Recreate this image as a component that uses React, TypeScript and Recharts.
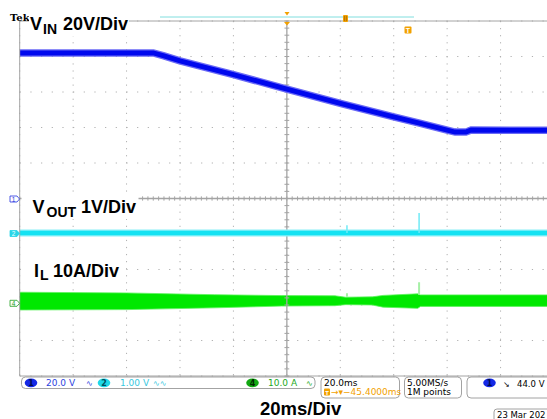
import {
  ComposedChart,
  Line,
  Area,
  XAxis,
  YAxis,
  CartesianGrid,
  ReferenceLine,
} from "recharts";

// horizontal: 20 ms/div, 10 divisions
const TIME_TICKS = [0, 20, 40, 60, 80, 100, 120, 140, 160, 180, 200];
// vertical: 10 divisions, centre = 0
const DIV_TICKS = [-5, -4, -3, -2, -1, 0, 1, 2, 3, 4, 5];
const MINOR_T = Array.from({ length: 101 }, (_, i) => i * 2);
const MINOR_D = Array.from({ length: 51 }, (_, i) => -5 + i * 0.2);

// CH1 VIN, 20 V/div, ground at centre
const VIN_SCALE = 20;
const VIN_POS = 0;
const vinTime = [0, 50, 54, 60, 80, 100, 120, 140, 150, 160, 163, 167, 169, 200];
const vinVolts = [82, 82, 80.3, 77.5, 69.8, 61.6, 53.6, 46.0, 42.3, 38.5, 37.4, 37.4, 38.6, 38.4];

// CH2 VOUT, 1 V/div (offset shown at marker)
const VOUT_SCALE = 1;
const VOUT_POS = -0.99;
const voutTime = [0, 200];
const voutVolts = [0.02, 0.02];

// CH4 IL, 10 A/div, ripple envelope
const IL_SCALE = 10;
const IL_POS = -2.97;
const ilTime = [0, 40, 73, 98, 118, 122, 132, 136, 149, 150, 200];
const ilLow = [-1.7, -1.6, -1.1, -0.6, -0.5, -0.2, -0.3, -0.9, -1.25, -0.7, -0.7];
const ilHigh = [3.3, 3.1, 2.6, 2.35, 2.3, 1.9, 2.0, 2.4, 2.85, 2.55, 2.55];

// glitches
const spikeTime = [122.5, 149.5];
const voutSpikePeak = [0.24, 0.58];
const ilSpikeBase = [2.0, 2.6];
const ilSpikePeak = [3.0, 6.1];

const vinData = vinTime.map((t, i) => ({ t, v: vinVolts[i] / VIN_SCALE + VIN_POS }));
const voutData = voutTime.map((t, i) => ({ t, v: voutVolts[i] / VOUT_SCALE + VOUT_POS }));
const ilData = ilTime.map((t, i) => ({
  t,
  lo: ilLow[i] / IL_SCALE + IL_POS,
  hi: ilHigh[i] / IL_SCALE + IL_POS,
}));
const voutSpikes = spikeTime.flatMap((t, i) => [
  { t, v: voutVolts[0] / VOUT_SCALE + VOUT_POS },
  { t, v: voutSpikePeak[i] / VOUT_SCALE + VOUT_POS },
  { t, v: null },
]);
const ilSpikes = spikeTime.flatMap((t, i) => [
  { t, v: ilSpikeBase[i] / IL_SCALE + IL_POS },
  { t, v: ilSpikePeak[i] / IL_SCALE + IL_POS },
  { t, v: null },
]);

const GRID = "#b0b0b0";
const AXIS = "#a4a4a4";
const ORANGE = "#f2a100";
const SANS = "'Liberation Sans', Arial, sans-serif";
const STATUS = "'DejaVu Sans', sans-serif";

function Tag({ y, label, color, filled }: { y: number; label: string; color: string; filled?: boolean }) {
  return (
    <g>
      <polygon
        points={`10,${y - 3} 17,${y - 3} 19.5,${y} 17,${y + 3} 10,${y + 3}`}
        fill={filled ? color : "#fff"}
        stroke={color}
        strokeWidth={0.8}
      />
      <text x={13.5} y={y + 2.5} fontSize={6.5} fontFamily={SANS} fill={filled ? "#eaffff" : color} textAnchor="middle">
        {label}
      </text>
    </g>
  );
}

function Badge({ cx, label, fill, ink }: { cx: number; label: string; fill: string; ink: string }) {
  return (
    <g>
      <ellipse cx={cx} cy={382.8} rx={6.3} ry={4.4} fill={fill} />
      <text x={cx} y={385.8} fontSize={8} fontWeight={700} fontFamily={STATUS} fill={ink} textAnchor="middle">
        {label}
      </text>
    </g>
  );
}

export default function App() {
  return (
    <div
      style={{
        position: "absolute",
        left: 0,
        top: 0,
        width: 547,
        height: 419,
        overflow: "hidden",
        background: "#fff",
      }}
    >
      <ComposedChart width={560} height={419} margin={{ top: 21, right: 6, bottom: 43, left: 19.7 }}>
        <XAxis type="number" dataKey="t" domain={[0, 200]} ticks={TIME_TICKS} allowDataOverflow hide />
        <YAxis type="number" domain={[-5, 5]} ticks={DIV_TICKS} allowDataOverflow hide />
        <XAxis
          xAxisId="top"
          orientation="top"
          type="number"
          domain={[0, 200]}
          ticks={MINOR_T}
          height={1}
          mirror
          tick={false}
          tickSize={3}
          axisLine={{ stroke: AXIS }}
          tickLine={{ stroke: AXIS }}
        />
        <XAxis
          xAxisId="bottom"
          orientation="bottom"
          type="number"
          domain={[0, 200]}
          ticks={MINOR_T}
          height={1}
          mirror
          tick={false}
          tickSize={3}
          axisLine={{ stroke: AXIS }}
          tickLine={{ stroke: AXIS }}
        />
        <YAxis
          yAxisId="left"
          orientation="left"
          type="number"
          domain={[-5, 5]}
          ticks={MINOR_D}
          width={1}
          mirror
          tick={false}
          tickSize={3}
          axisLine={{ stroke: AXIS }}
          tickLine={{ stroke: AXIS }}
        />
        <CartesianGrid horizontal vertical={false} stroke={GRID} strokeDasharray="1.2 9.47" />
        <CartesianGrid horizontal={false} vertical stroke={GRID} strokeDasharray="1.2 5.86" />
        <ReferenceLine x={100} stroke={AXIS} strokeWidth={1.3} />
        <ReferenceLine y={0} stroke={AXIS} strokeWidth={1.3} />
        {MINOR_T.map((t) => (
          <ReferenceLine
            key={`mt${t}`}
            segment={[
              { x: t, y: -0.06 },
              { x: t, y: 0.06 },
            ]}
            stroke={AXIS}
          />
        ))}
        {MINOR_D.map((d) => (
          <ReferenceLine
            key={`md${d}`}
            segment={[
              { x: 99.1, y: d },
              { x: 100.9, y: d },
            ]}
            stroke={AXIS}
          />
        ))}

        <Area
          data={ilData}
          dataKey={(d: { lo: number; hi: number }) => [d.lo, d.hi]}
          type="linear"
          stroke="#5cf25c"
          strokeWidth={0.8}
          fill="#00e800"
          fillOpacity={1}
          isAnimationActive={false}
        />
        <Line
          data={ilSpikes}
          dataKey="v"
          type="linear"
          stroke="#a6f0a6"
          strokeWidth={2}
          dot={false}
          isAnimationActive={false}
        />
        <Line
          data={voutData}
          dataKey="v"
          type="linear"
          stroke="#8af0f8"
          strokeWidth={7}
          dot={false}
          isAnimationActive={false}
        />
        <Line
          data={voutData}
          dataKey="v"
          type="linear"
          stroke="#14e2f2"
          strokeWidth={4.5}
          dot={false}
          isAnimationActive={false}
        />
        <Line
          data={voutSpikes}
          dataKey="v"
          type="linear"
          stroke="#70eaf6"
          strokeWidth={1.5}
          dot={false}
          isAnimationActive={false}
        />
        <Line
          data={vinData}
          dataKey="v"
          type="linear"
          stroke="#6a6af6"
          strokeWidth={7.5}
          dot={false}
          isAnimationActive={false}
        />
        <Line
          data={vinData}
          dataKey="v"
          type="linear"
          stroke="#0008ee"
          strokeWidth={5}
          dot={false}
          isAnimationActive={false}
        />
      </ComposedChart>

      <svg
        width={547}
        height={419}
        style={{ position: "absolute", left: 0, top: 0, pointerEvents: "none" }}
      >
        {/* header */}
        <text x={10} y={20.5} fontSize={10} fontWeight={700} fontFamily="'DejaVu Serif', serif">
          Tek
        </text>
        <line x1={160} x2={414} y1={17} y2={17} stroke="#80dede" strokeWidth={1} />
        <polygon points="284.5,12 289.5,12 287,15.5" fill={ORANGE} />
        <polygon points="284,22 290,22 287,25.5" fill={ORANGE} />
        <rect x={343} y={15} width={5} height={7} rx={1} fill={ORANGE} />
        <line x1={344.6} x2={344.6} y1={16} y2={21} stroke="#a06000" strokeWidth={0.7} />
        <line x1={346.4} x2={346.4} y1={16} y2={21} stroke="#a06000" strokeWidth={0.7} />
        <rect x={404.5} y={26.5} width={7} height={7} rx={1} fill={ORANGE} />
        <text x={408} y={32.5} fontSize={7} fontWeight={700} fontFamily={SANS} fill="#fff" textAnchor="middle">
          T
        </text>

        {/* channel labels */}
        <rect x={29} y={14} width={100} height={22} fill="#fff" />
        <text fontFamily={SANS} fontWeight={700} fill="#000">
          <tspan x={30} y={30} fontSize={18}>V</tspan>
          <tspan x={43} y={33.5} fontSize={14}>IN</tspan>
          <tspan x={63} y={30} fontSize={18}>20V/Div</tspan>
        </text>
        <rect x={21.5} y={194} width={117} height={25} fill="#fff" />
        <text fontFamily={SANS} fontWeight={700} fill="#000">
          <tspan x={32.5} y={213.3} fontSize={18}>V</tspan>
          <tspan x={46.5} y={216.5} fontSize={14}>OUT</tspan>
          <tspan x={81} y={213.3} fontSize={18}>1V/Div</tspan>
        </text>
        <rect x={30} y={258} width={92} height={23} fill="#fff" />
        <text fontFamily={SANS} fontWeight={700} fill="#000">
          <tspan x={34} y={276.7} fontSize={18}>I</tspan>
          <tspan x={40} y={280} fontSize={14}>L</tspan>
          <tspan x={53} y={276.7} fontSize={18}>10A/Div</tspan>
        </text>

        {/* ground markers */}
        <Tag y={199} label="1" color="#2434e0" />
        <Tag y={233.5} label="2" color="#2ad6e8" filled />
        <Tag y={303.3} label="4" color="#1ea01e" />

        {/* status bar */}
        <rect x={21.5} y={377} width={293.5} height={11.5} rx={4} fill="#fff" stroke="#8c8c8c" strokeWidth={0.8} />
        <Badge cx={31} label="1" fill="#1428e6" ink="#000c50" />
        <text x={46} y={386.3} fontSize={9} fontFamily={STATUS} fill="#2c44e0">20.0 V</text>
        <text x={86} y={386.3} fontSize={8} fontFamily={STATUS} fill="#2c44e0">∿</text>
        <Badge cx={104} label="2" fill="#1ed8e8" ink="#005060" />
        <text x={120} y={386.3} fontSize={9} fontFamily={STATUS} fill="#38c8e0">1.00 V</text>
        <text x={153} y={386.3} fontSize={8} fontFamily={STATUS} fill="#38c8e0">∿∿</text>
        <Badge cx={252.5} label="4" fill="#12a812" ink="#002800" />
        <text x={268} y={386.3} fontSize={9} fontFamily={STATUS} fill="#22a822">10.0 A</text>
        <text x={306} y={386.3} fontSize={8} fontFamily={STATUS} fill="#22a822">∿</text>

        <rect x={321} y={377} width={78.5} height={21} rx={4} fill="#fff" stroke="#8c8c8c" strokeWidth={0.8} />
        <text x={324} y={386} fontSize={9} fontFamily={STATUS} fill="#000">20.0ms</text>
        <rect x={324} y={388.5} width={6} height={7} rx={1} fill={ORANGE} />
        <text x={327} y={394.5} fontSize={6} fontWeight={700} fontFamily={SANS} fill="#fff" textAnchor="middle">T</text>
        <text x={331} y={395} fontSize={9} fontFamily={STATUS} fill={ORANGE}>→▾−45.4000ms</text>

        <rect x={404.5} y={377} width={57} height={21} rx={4} fill="#fff" stroke="#8c8c8c" strokeWidth={0.8} />
        <text x={407} y={386} fontSize={9} fontFamily={STATUS} fill="#000">5.00MS/s</text>
        <text x={407} y={395} fontSize={9} fontFamily={STATUS} fill="#000">1M points</text>

        <rect x={467} y={377} width={90} height={21} rx={4} fill="#fff" stroke="#8c8c8c" strokeWidth={0.8} />
        <Badge cx={489.5} label="1" fill="#1428e6" ink="#000c50" />
        <text x={503} y={386.5} fontSize={8} fontFamily={STATUS} fill="#000">↘</text>
        <text x={517} y={387} fontSize={8.5} fontFamily={STATUS} fill="#000">44.0 V</text>

        {/* time base */}
        <text x={260} y={415} fontSize={18.5} fontWeight={700} fontFamily={SANS} fill="#000">
          20ms/Div
        </text>
        <rect x={494} y={409} width={60} height={14} rx={3} fill="#fff" stroke="#8c8c8c" strokeWidth={0.8} />
        <text x={497} y={418} fontSize={8.5} fontFamily={STATUS} fill="#000">23 Mar 202</text>
      </svg>
    </div>
  );
}
